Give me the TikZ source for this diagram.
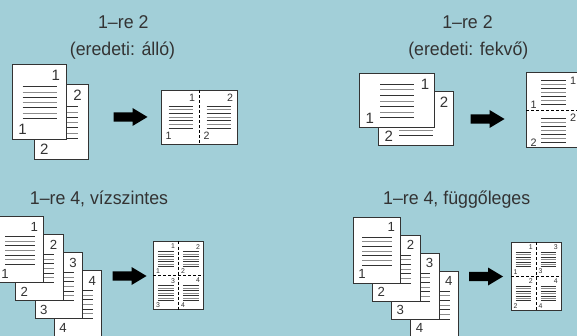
\documentclass[tikz,border=0pt]{standalone}
\usepackage{fontspec}
\setmainfont{Liberation Sans}
\newfontfamily\titlefont[FakeStretch=0.96]{Liberation Sans}
\usetikzlibrary{calc}

\definecolor{bgblue}{RGB}{162,207,216}
\definecolor{inkgray}{RGB}{51,51,51}

\tikzset{
	pageframe/.style={draw=inkgray, fill=white, line width=0.9pt},
	textline/.style={line width=0.8pt},
	foldline/.style={draw=black, line width=0.8pt, dash pattern=on 3pt off 2pt},
	pagenum/.style={inner sep=0pt, text=inkgray},
	headline/.style={font=\titlefont\fontsize{18.5}{21}\selectfont, text=inkgray, inner sep=0pt, anchor=base},
	blockarrow/.style={fill=black},
}

% lines and numbers of a portrait page, 54 x 75
\def\portcontent#1(#2)[#3]#4{%
	\begin{scope}[shift={(#2)}, scale=#3]
		\pgfmathsetmacro\numsize{15*#3}
		\foreach \k in {0,...,6}{
			\ifodd\k\relax\def\linecol{black!45}\else\def\linecol{black!80}\fi
			\draw[textline, draw=\linecol] (10,{22.4+5.27*\k}) -- (44,{22.4+5.27*\k});
		}
		\node[pagenum, anchor=north east, font=\fontsize{\numsize}{\numsize}\selectfont] (#1-tr) at (47.5,5.5) {#4};
		\node[pagenum, anchor=south west, font=\fontsize{\numsize}{\numsize}\selectfont] (#1-bl) at (5.5,70) {#4};
	\end{scope}}

% lines and numbers of a landscape page, 75 x 54
\def\landcontent#1(#2)[#3]#4{%
	\begin{scope}[shift={(#2)}, scale=#3]
		\pgfmathsetmacro\numsize{15*#3}
		\foreach \k in {0,...,6}{
			\ifodd\k\relax\def\linecol{black!45}\else\def\linecol{black!80}\fi
			\draw[textline, draw=\linecol] (21,{11.3+5.55*\k}) -- (55,{11.3+5.55*\k});
		}
		\node[pagenum, anchor=north east, font=\fontsize{\numsize}{\numsize}\selectfont] (#1-tr) at (70,5.5) {#4};
		\node[pagenum, anchor=south west, font=\fontsize{\numsize}{\numsize}\selectfont] (#1-bl) at (6,50.5) {#4};
	\end{scope}}

\def\portpage#1(#2)[#3]#4{%
	\draw[pageframe, shift={(#2)}, scale=#3] (0,0) rectangle (54,75);
	\portcontent{#1}(#2)[#3]{#4}}

\def\landpage#1(#2)[#3]#4{%
	\draw[pageframe, shift={(#2)}, scale=#3] (0,0) rectangle (75,54);
	\landcontent{#1}(#2)[#3]{#4}}

% landscape sheet, two portrait pages side by side
\def\twoupwide#1(#2)#3#4{%
	\begin{scope}[shift={(#2)}]
		\draw[pageframe] (0,0) rectangle (76,54);
		\portcontent{#1-l}(0,0)[0.71]{#3}
		\portcontent{#1-r}(38,0)[0.71]{#4}
		\draw[foldline] (38,0) -- (38,54);
	\end{scope}}

% portrait sheet, two landscape pages one above the other
\def\twouptall#1(#2)#3#4{%
	\begin{scope}[shift={(#2)}]
		\draw[pageframe] (0,0) rectangle (54,75);
		\landcontent{#1-t}(0,0)[0.72]{#3}
		\landcontent{#1-b}(0,37.5)[0.72]{#4}
		\draw[foldline] (0,37.5) -- (54,37.5);
	\end{scope}}

% portrait sheet, four portrait pages
\def\fourup#1(#2)#3#4#5#6{%
	\begin{scope}[shift={(#2)}]
		\draw[pageframe] (0,0) rectangle (50,68);
		\portcontent{#1-a}(0,0)[0.46]{#3}
		\portcontent{#1-b}(25,0)[0.46]{#4}
		\portcontent{#1-c}(0,34)[0.46]{#5}
		\portcontent{#1-d}(25,34)[0.46]{#6}
		\draw[foldline] (25,0) -- (25,68);
		\draw[foldline] (0,34) -- (50,34);
	\end{scope}}

\def\bigarrow(#1){\fill[blockarrow, shift={(#1)}] (-17,-4.7) -- (2,-4.7) -- (2,-9) -- (17,0) -- (2,9) -- (2,4.7) -- (-17,4.7) -- cycle;}

\begin{document}
\begin{tikzpicture}[x=1pt, y=-1pt]
		%%%%% START %%%%%
		
		\useasboundingbox (0,0) rectangle (577,336);
		\clip (0,0) rectangle (577,336);
		\fill[bgblue] (0,0) rectangle (577,336);
		
		% 1-re 2, portrait
		\node[headline] (titleA) at (123.3,28.3) {1–re 2};
		\node[headline] (subA) at (122.5,56) {(eredeti: álló)};
		\portpage{aP2}(34.3,84.3)[1]{2}
		\portpage{aP1}(12.7,64.3)[1]{1}
		\bigarrow(130.5,117)
		\twoupwide{aOut}(161.5,90){1}{2}
		
		% 1-re 2, landscape
		\node[headline] (titleB) at (467.5,28.3) {1–re 2};
		\node[headline] (subB) at (468.3,56) {(eredeti: fekvő)};
		\landpage{bP2}(378.3,91)[1]{2}
		\landpage{bP1}(359.3,73)[1]{1}
		\bigarrow(487.5,119)
		\twouptall{bOut}(526,72.5){1}{2}
		
		% 1-re 4, horizontal
		\node[headline] (titleC) at (99,205) {1–re 4, vízszintes};
		\foreach \n in {4,3,2,1}{
			\portpage{cP\n}({-3.7+19.35*(\n-1)},{216.9+18*(\n-1)})[0.88]{\n}
		}
		\bigarrow(129.5,276)
		\fourup{cOut}(153.3,241.5){1}{2}{3}{4}
		
		% 1-re 4, vertical
		\node[headline] (titleD) at (456.7,205) {1–re 4, függőleges};
		\foreach \n in {4,3,2,1}{
			\portpage{dP\n}({353.3+19.2*(\n-1)},{217.5+18*(\n-1)})[0.88]{\n}
		}
		\bigarrow(486,276.5)
		\fourup{dOut}(511,242){1}{3}{2}{4}
		
		%%%%% END %%%%%
\end{tikzpicture}
\end{document}
